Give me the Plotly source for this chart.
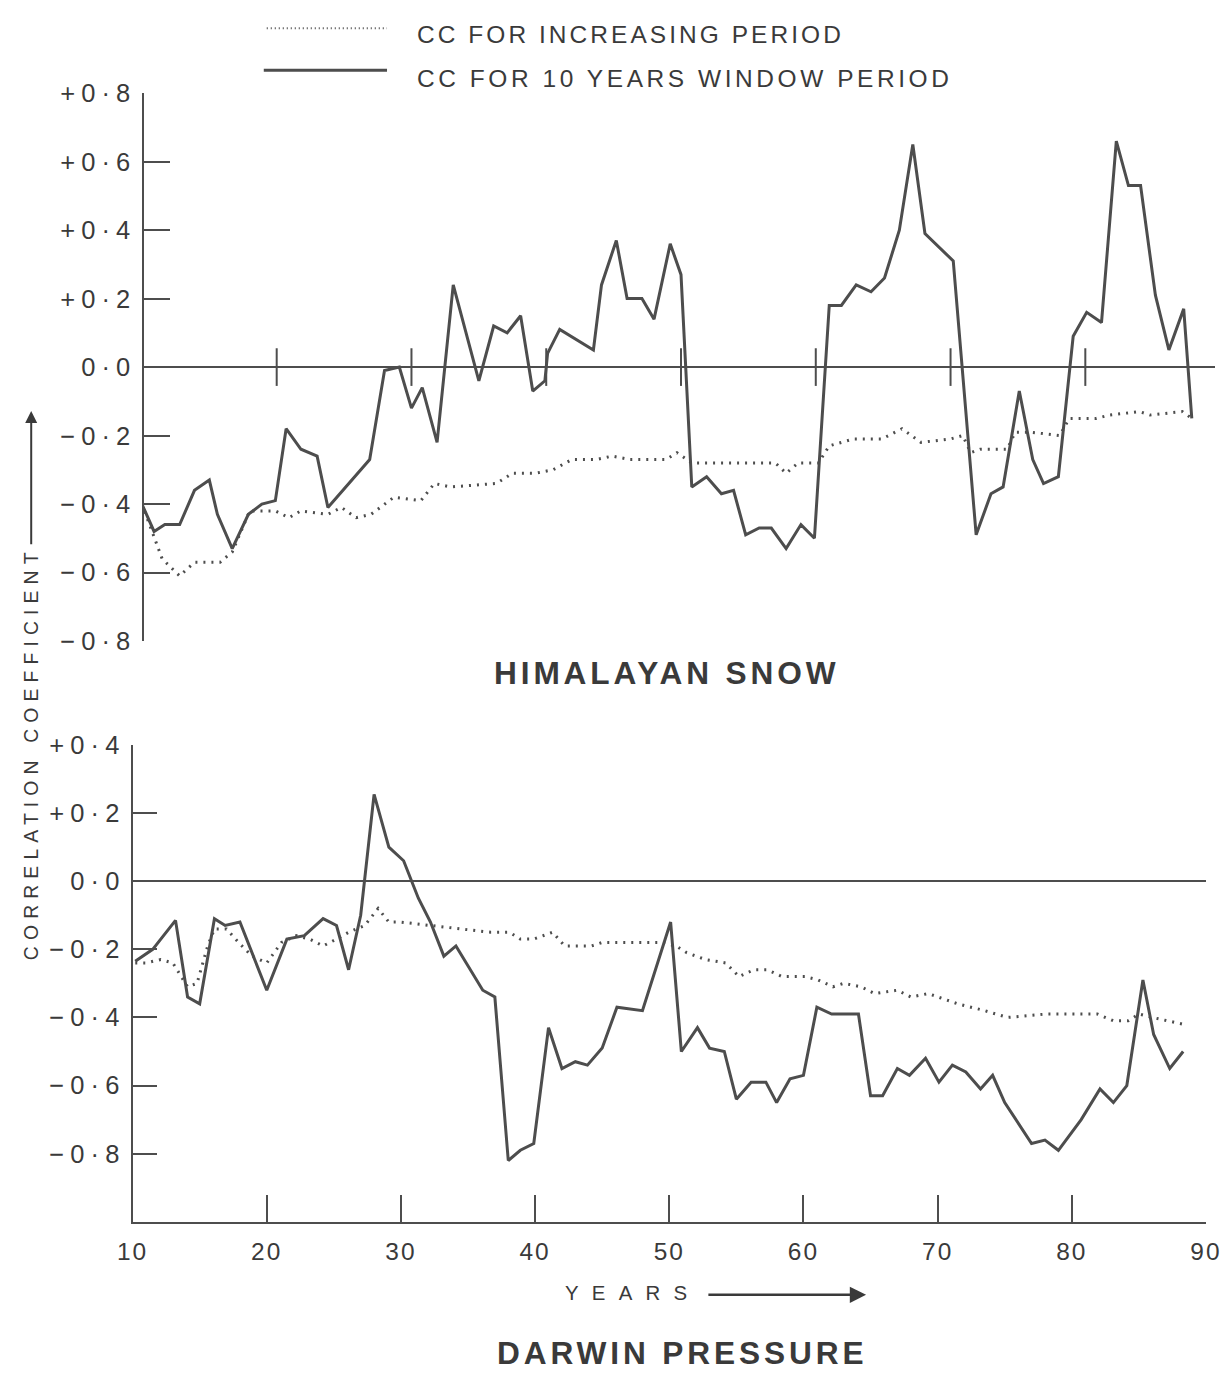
import plotly.graph_objects as go

# ---------------- data ----------------
TOP_SOLID_YEARS = [10.0, 10.9, 11.7, 12.8, 13.9, 15.0, 15.6, 16.7, 17.9, 18.9, 19.9, 20.7, 21.8, 23.0,
                   23.8, 26.9, 28.0, 29.1, 30.0, 30.8, 31.9, 33.1, 35.0, 36.1, 37.1, 38.1, 39.0, 39.9,
                   40.1, 41.0, 43.5, 44.1, 45.2, 46.0, 47.1, 48.0, 49.2, 50.0, 50.8, 51.9, 53.0, 53.9,
                   54.8, 55.8, 56.7, 57.8, 58.9, 59.9, 61.0, 61.9, 63.0, 64.1, 65.1, 66.2, 67.2, 68.1,
                   70.2, 71.9, 73.0, 73.9, 75.1, 76.1, 76.9, 78.0, 79.1, 80.1, 81.2, 82.3, 83.2, 84.1,
                   85.2, 86.2, 87.3, 87.9]
TOP_SOLID_CC = [-0.40, -0.48, -0.46, -0.46, -0.36, -0.33, -0.43, -0.53, -0.43, -0.40, -0.39, -0.18, -0.24, -0.26,
                -0.41, -0.27, -0.01, 0.00, -0.12, -0.06, -0.22, 0.24, -0.04, 0.12, 0.10, 0.15, -0.07, -0.04,
                0.04, 0.11, 0.05, 0.24, 0.37, 0.20, 0.20, 0.14, 0.36, 0.27, -0.35, -0.32, -0.37, -0.36,
                -0.49, -0.47, -0.47, -0.53, -0.46, -0.50, 0.18, 0.18, 0.24, 0.22, 0.26, 0.40, 0.65, 0.39,
                0.31, -0.49, -0.37, -0.35, -0.07, -0.27, -0.34, -0.32, 0.09, 0.16, 0.13, 0.66, 0.53, 0.53,
                0.21, 0.05, 0.17, -0.15]

TOP_DOT_YEARS = [10.0, 11.5, 12.8, 13.9, 15.8, 16.7, 18.0, 19.9, 20.9, 21.8, 23.8, 24.8, 25.9, 27.0,
                 28.7, 30.7, 31.7, 32.9, 36.3, 37.5, 39.2, 40.5, 41.9, 43.7, 44.9, 46.2, 48.9, 49.7,
                 50.8, 53.6, 57.0, 57.8, 58.7, 60.2, 61.0, 62.8, 64.9, 66.4, 67.8, 70.0, 70.9, 71.5,
                 72.2, 74.2, 74.8, 75.9, 78.1, 78.8, 80.8, 81.8, 84.0, 84.8, 87.2, 87.9]
TOP_DOT_CC = [-0.40, -0.56, -0.61, -0.57, -0.57, -0.54, -0.42, -0.42, -0.44, -0.42, -0.43, -0.41, -0.44, -0.43,
              -0.38, -0.39, -0.34, -0.35, -0.34, -0.31, -0.31, -0.30, -0.27, -0.27, -0.26, -0.27, -0.27, -0.25,
              -0.28, -0.28, -0.28, -0.31, -0.28, -0.28, -0.23, -0.21, -0.21, -0.18, -0.22, -0.21, -0.20, -0.25,
              -0.24, -0.24, -0.19, -0.19, -0.20, -0.15, -0.15, -0.14, -0.13, -0.14, -0.13, -0.15]

BOT_SOLID_YEARS = [10.2, 11.5, 13.2, 14.1, 15.0, 16.1, 16.9, 18.0, 20.0, 21.5, 22.8, 24.2, 25.2, 26.1,
                   27.0, 28.0, 29.1, 30.2, 31.3, 32.2, 33.2, 34.1, 36.1, 37.0, 38.0, 38.9, 39.9, 41.0,
                   42.0, 43.0, 43.9, 45.0, 46.1, 48.0, 50.1, 50.9, 52.1, 53.0, 54.1, 55.0, 56.1, 57.2,
                   58.0, 59.0, 60.0, 61.0, 62.1, 64.1, 65.0, 65.9, 67.0, 67.9, 69.1, 70.1, 71.1, 72.1,
                   73.2, 74.1, 75.0, 77.0, 78.0, 79.0, 80.7, 82.1, 83.1, 84.1, 85.3, 86.1, 87.3, 88.3]
BOT_SOLID_CC = [-0.235, -0.20, -0.115, -0.34, -0.36, -0.11, -0.13, -0.12, -0.32, -0.17, -0.16, -0.11, -0.13, -0.26,
                -0.10, 0.255, 0.10, 0.06, -0.05, -0.12, -0.22, -0.19, -0.32, -0.34, -0.82, -0.79, -0.77, -0.43,
                -0.55, -0.53, -0.54, -0.49, -0.37, -0.38, -0.12, -0.50, -0.43, -0.49, -0.50, -0.64, -0.59, -0.59,
                -0.65, -0.58, -0.57, -0.37, -0.39, -0.39, -0.63, -0.63, -0.55, -0.57, -0.52, -0.59, -0.54, -0.56,
                -0.61, -0.57, -0.65, -0.77, -0.76, -0.79, -0.70, -0.61, -0.65, -0.60, -0.29, -0.45, -0.55, -0.50]

BOT_DOT_YEARS = [10.2, 11.0, 12.1, 13.0, 14.1, 14.8, 15.6, 16.1, 17.0, 17.9, 18.9, 20.0, 21.1, 22.2,
                 23.2, 24.2, 25.2, 26.1, 27.3, 28.3, 29.1, 30.0, 32.2, 34.4, 36.7, 38.1, 38.9, 39.9,
                 41.3, 42.2, 44.2, 45.0, 49.3, 50.5, 51.3, 52.7, 54.2, 55.2, 56.3, 57.3, 58.4, 60.1,
                 61.1, 62.2, 63.0, 64.3, 65.3, 67.0, 68.0, 69.3, 71.5, 73.5, 75.2, 78.1, 81.9, 83.1,
                 84.2, 85.0, 86.0, 88.3]
BOT_DOT_CC = [-0.24, -0.24, -0.23, -0.24, -0.31, -0.30, -0.19, -0.14, -0.14, -0.18, -0.22, -0.24, -0.18, -0.16,
              -0.17, -0.19, -0.17, -0.15, -0.13, -0.08, -0.12, -0.12, -0.13, -0.14, -0.15, -0.15, -0.17, -0.17,
              -0.15, -0.19, -0.19, -0.18, -0.18, -0.19, -0.21, -0.23, -0.24, -0.28, -0.26, -0.26, -0.28, -0.28,
              -0.29, -0.31, -0.30, -0.31, -0.33, -0.32, -0.34, -0.33, -0.36, -0.38, -0.40, -0.39, -0.39, -0.41,
              -0.41, -0.39, -0.40, -0.42]

TOP_Y_TICKS = [0.8, 0.6, 0.4, 0.2, 0.0, -0.2, -0.4, -0.6, -0.8]
TOP_Y_LABELS = ["+0·8", "+0·6", "+0·4", "+0·2", "0·0", "−0·2", "−0·4", "−0·6", "−0·8"]
BOT_Y_TICKS = [0.4, 0.2, 0.0, -0.2, -0.4, -0.6, -0.8]
BOT_Y_LABELS = ["+0·4", "+0·2", "0·0", "−0·2", "−0·4", "−0·6", "−0·8"]
X_TICKS = [10, 20, 30, 40, 50, 60, 70, 80, 90]
X_LABELS = ["10", "20", "30", "40", "50", "60", "70", "80", "90"]
ZERO_MARK_YEARS = [20, 30, 40, 50, 60, 70, 80, 90]

LEGEND_DOT = "CC FOR INCREASING PERIOD"
LEGEND_SOLID = "CC FOR 10 YEARS WINDOW PERIOD"
TITLE_TOP = "HIMALAYAN SNOW"
TITLE_BOT = "DARWIN PRESSURE"
Y_TITLE = "CORRELATION COEFFICIENT"
X_TITLE = "YEARS"

# ---------------- page geometry ----------------
W, H = 1231, 1378
# the photographed page comes out slightly shrunk about its centre;
# layout positions below are given in reference-picture pixels and converted.
A = 0.98
BX, BY = 12.7, 12.8
S = 1 / A
INK = "#3a3a3a"
LINE = "#4d4d4d"
FONT = "Liberation Sans, Arial, sans-serif"


def ls(s, px):
    return '<span style="letter-spacing:%.2fpx">%s</span>' % (px * S, s)


def fx(p):
    return min(1.0, max(0.0, (p - BX) / A / W))


def fy(p):
    return min(1.0, max(0.0, 1 - (p - BY) / A / H))


# top panel horizontal scale (reference pixels): year 20 at x=275, 13.56 px per year
TOP_L_REF = 141
TOP_R_REF = BX + A * W
top_range = [20 + (TOP_L_REF - 275) / 13.56, 20 + (TOP_R_REF - 275) / 13.56]

fig = go.Figure()

fig.add_trace(go.Scatter(x=TOP_DOT_YEARS, y=TOP_DOT_CC, mode="lines", xaxis="x", yaxis="y",
                         line=dict(color=LINE, width=3, dash="2px,6px"), showlegend=False))
fig.add_trace(go.Scatter(x=TOP_SOLID_YEARS, y=TOP_SOLID_CC, mode="lines", xaxis="x", yaxis="y",
                         line=dict(color=LINE, width=3), showlegend=False))
fig.add_trace(go.Scatter(x=BOT_DOT_YEARS, y=BOT_DOT_CC, mode="lines", xaxis="x2", yaxis="y2",
                         line=dict(color=LINE, width=3, dash="2px,6px"), showlegend=False))
fig.add_trace(go.Scatter(x=BOT_SOLID_YEARS, y=BOT_SOLID_CC, mode="lines", xaxis="x2", yaxis="y2",
                         line=dict(color=LINE, width=3), showlegend=False))

ytickfont = dict(family=FONT, size=25 * S, color=INK)

fig.update_layout(
    width=W, height=H, autosize=False,
    margin=dict(l=0, r=0, t=0, b=0),
    paper_bgcolor="white", plot_bgcolor="rgba(0,0,0,0)",
    xaxis=dict(domain=[fx(TOP_L_REF), fx(TOP_R_REF)], range=top_range, visible=False, anchor="y"),
    yaxis=dict(domain=[fy(640), fy(92)], range=[-0.8, 0.8], anchor="x",
               tickvals=TOP_Y_TICKS, ticktext=[ls(t, 6) for t in TOP_Y_LABELS],
               ticks="inside", ticklen=26 * S, tickwidth=2, tickcolor=LINE,
               showline=True, linecolor=LINE, linewidth=2,
               showgrid=False, zeroline=True, zerolinecolor=LINE, zerolinewidth=2,
               tickfont=ytickfont, ticklabelstandoff=0),
    xaxis2=dict(domain=[fx(130), fx(1210)], range=[10, 90], anchor="y2",
                tickvals=X_TICKS, ticktext=[ls(t, 2) for t in X_LABELS],
                ticks="inside", ticklen=26 * S, tickwidth=2, ticklabeloverflow="allow",
                tickcolor=LINE, showline=True, linecolor=LINE, linewidth=2, showgrid=False,
                zeroline=False, tickfont=dict(family=FONT, size=24 * S, color=INK),
                ticklabelstandoff=7),
    yaxis2=dict(domain=[fy(1221), fy(744)], range=[-1.0, 0.4], anchor="x2",
                tickvals=BOT_Y_TICKS, ticktext=[ls(t, 6) for t in BOT_Y_LABELS],
                ticks="inside", ticklen=24 * S, tickwidth=2, tickcolor=LINE,
                showline=True, linecolor=LINE, linewidth=2,
                showgrid=False, zeroline=True, zerolinecolor=LINE, zerolinewidth=2,
                tickfont=ytickfont, ticklabelstandoff=0),
)

# crossing marks on the top zero line
shapes = []
for yr in ZERO_MARK_YEARS:
    if yr <= top_range[1]:
        shapes.append(dict(type="line", xref="x", yref="y", x0=yr, x1=yr, y0=-0.055, y1=0.055,
                           line=dict(color=LINE, width=2)))

# legend samples
shapes.append(dict(type="line", xref="paper", yref="paper", x0=fx(265), x1=fx(386),
                   y0=fy(27), y1=fy(27), line=dict(color=LINE, width=2, dash="1px,3px")))
shapes.append(dict(type="line", xref="paper", yref="paper", x0=fx(262), x1=fx(386),
                   y0=fy(69), y1=fy(69), line=dict(color=LINE, width=3)))
fig.update_layout(shapes=shapes)

ann = []
ann.append(dict(text=ls(LEGEND_DOT, 3), x=fx(414), y=fy(33), xref="paper", yref="paper",
                xanchor="left", yanchor="middle", showarrow=False,
                font=dict(family=FONT, size=24 * S, color=INK)))
ann.append(dict(text=ls(LEGEND_SOLID, 3.5), x=fx(414), y=fy(77), xref="paper", yref="paper",
                xanchor="left", yanchor="middle", showarrow=False,
                font=dict(family=FONT, size=24 * S, color=INK)))
ann.append(dict(text="<b>" + ls(TITLE_TOP, 3.8) + "</b>", x=fx(667), y=fy(672), xref="paper",
                yref="paper", xanchor="center", yanchor="middle", showarrow=False,
                font=dict(family=FONT, size=31 * S, color=INK)))
ann.append(dict(text="<b>" + ls(TITLE_BOT, 3.8) + "</b>", x=fx(683), y=0, xref="paper",
                yref="paper", xanchor="center", yanchor="bottom", yshift=-9, showarrow=False,
                font=dict(family=FONT, size=31 * S, color=INK)))
# vertical axis title
ann.append(dict(text=ls(Y_TITLE, 6.0), x=fx(28), y=fy(752), xref="paper", yref="paper",
                xanchor="center", yanchor="middle", showarrow=False, textangle=-90,
                font=dict(family=FONT, size=19 * S, color=INK)))
ann.append(dict(text="", x=fx(28), y=fy(410), xref="paper", yref="paper", showarrow=True,
                ax=0, ay=132 * S, axref="pixel", ayref="pixel", arrowhead=2, arrowsize=1.2,
                arrowwidth=2, arrowcolor=INK))
# x axis title
ann.append(dict(text=ls(X_TITLE, 13), x=fx(633), y=fy(1292), xref="paper", yref="paper",
                xanchor="center", yanchor="middle", showarrow=False,
                font=dict(family=FONT, size=20 * S, color=INK)))
ann.append(dict(text="", x=fx(868), y=fy(1294), xref="paper", yref="paper", showarrow=True,
                ax=-156 * S, ay=0, axref="pixel", ayref="pixel", arrowhead=2, arrowsize=1.3,
                arrowwidth=2.5, arrowcolor=INK))
fig.update_layout(annotations=ann)

fig.write_html("out.html")
